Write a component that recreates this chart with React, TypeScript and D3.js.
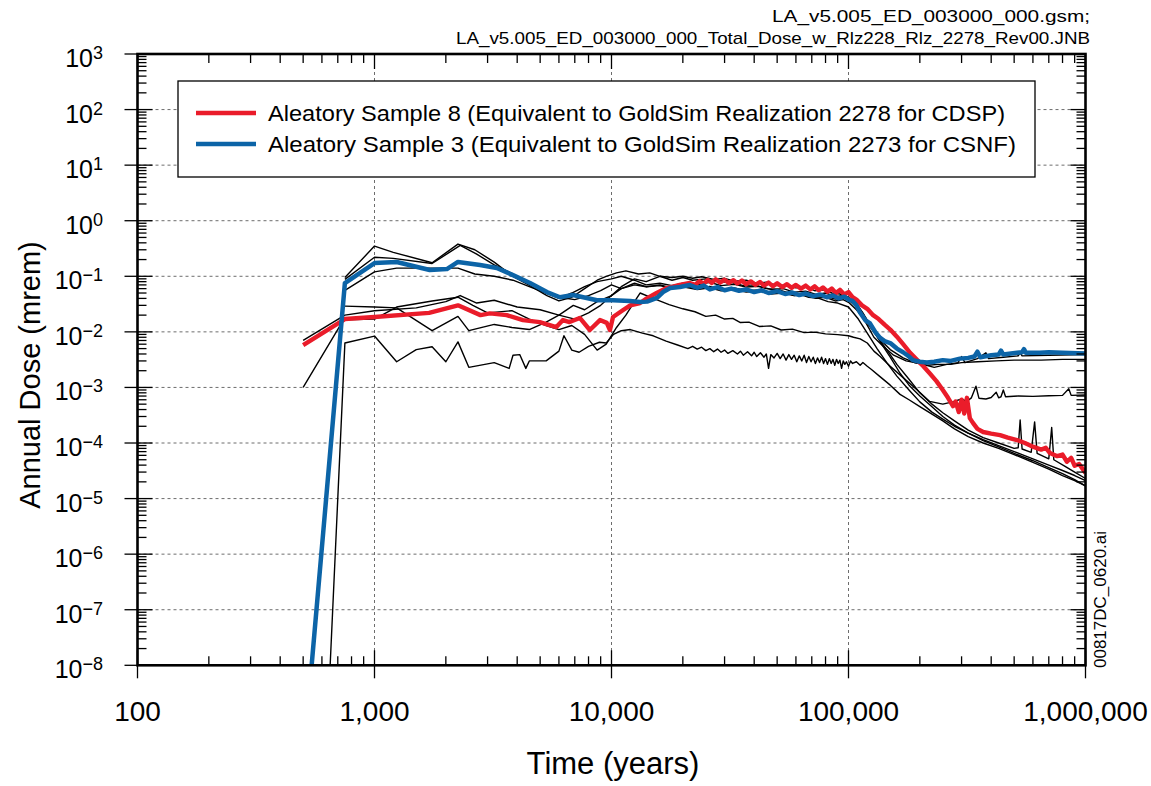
import React from "react";
import * as d3 from "d3";

type Pt = [number, number];

const W = 1151;
const H = 786;

const xDomain: [number, number] = [100, 1e6];
const yDomain: [number, number] = [1e-8, 1e3];
const xMajorTicks = [100, 1000, 10000, 100000, 1000000];
const yMajorExponents = [3, 2, 1, 0, -1, -2, -3, -4, -5, -6, -7, -8];

const headerLines = [
  "LA_v5.005_ED_003000_000.gsm;",
  "LA_v5.005_ED_003000_000_Total_Dose_w_Rlz228_Rlz_2278_Rev00.JNB",
];
const sideNote = "00817DC_0620.ai";
const xTitle = "Time (years)";
const yTitle = "Annual Dose (mrem)";
const legendLabels = [
  "Aleatory Sample 8 (Equivalent to GoldSim Realization 2278 for CDSP)",
  "Aleatory Sample 3 (Equivalent to GoldSim Realization 2273 for CSNF)",
];

// Aleatory Sample 8 (red)
const redSeries: Pt[] = [
  [500, 0.0058], [750, 0.017], [1000, 0.0185], [1700, 0.022], [2250, 0.03], [2800, 0.02],
  [3070, 0.0215], [3610, 0.02], [4230, 0.0163], [4980, 0.015], [5850, 0.0122], [6240, 0.0163],
  [6650, 0.015], [7350, 0.0178], [8100, 0.0108], [8940, 0.0163], [9550, 0.0145], [9850, 0.0108],
  [10150, 0.0185], [11200, 0.0247], [12000, 0.03], [13200, 0.033], [14100, 0.04], [15500, 0.05],
  [17100, 0.0615], [19400, 0.0697], [21400, 0.0757], [22500, 0.07], [23500, 0.082], [24500, 0.074],
  [25500, 0.086], [26500, 0.076], [27500, 0.088], [28700, 0.077], [30000, 0.087], [31300, 0.076],
  [32700, 0.085], [34000, 0.074], [35500, 0.084], [37000, 0.072], [38700, 0.081], [40500, 0.07],
  [42300, 0.079], [44000, 0.068], [46000, 0.077], [48000, 0.066], [50000, 0.075], [52500, 0.064],
  [55000, 0.072], [57500, 0.062], [60000, 0.07], [63000, 0.06], [66000, 0.068], [69000, 0.058],
  [72000, 0.066], [75000, 0.056], [78000, 0.063], [81500, 0.053], [85000, 0.06], [88500, 0.05],
  [92000, 0.057], [96000, 0.047], [100000, 0.052], [104000, 0.042], [108000, 0.038], [114000, 0.03],
  [120000, 0.026], [127000, 0.02], [134000, 0.017], [142000, 0.0135], [150000, 0.011], [160000, 0.0082],
  [170000, 0.006], [182000, 0.0042], [195000, 0.0031], [207000, 0.0024], [220000, 0.0018],
  [235000, 0.0013], [250000, 9e-4], [263000, 6.5e-4], [276000, 4.6e-4], [283000, 5.6e-4],
  [292000, 3.6e-4], [300000, 6e-4], [308000, 3.4e-4], [316000, 6.5e-4], [325000, 2.8e-4],
  [335000, 2.3e-4], [350000, 1.8e-4], [370000, 1.58e-4], [400000, 1.48e-4], [436000, 1.39e-4],
  [470000, 1.25e-4], [514000, 1.13e-4], [555000, 1e-4], [600000, 8.6e-5], [650000, 7.6e-5],
  [680000, 8.2e-5], [708000, 6.6e-5], [760000, 5.8e-5], [800000, 6.2e-5], [835000, 4.6e-5],
  [870000, 5.4e-5], [900000, 3.9e-5], [940000, 4.2e-5], [1000000, 2.9e-5],
];

// Aleatory Sample 3 (blue)
const blueSeries: Pt[] = [
  [543, 1e-8], [750, 0.0757], [1000, 0.173], [1240, 0.181], [1710, 0.13], [2020, 0.135],
  [2250, 0.181], [2790, 0.16], [3280, 0.141], [3840, 0.105], [4530, 0.0757], [5340, 0.052],
  [6060, 0.042], [6880, 0.046], [8680, 0.037], [10150, 0.037], [11970, 0.036], [13200, 0.0344],
  [14120, 0.035], [15560, 0.041], [16500, 0.052], [17690, 0.0615], [19450, 0.0642], [21400, 0.0697],
  [23000, 0.062], [24500, 0.068], [26000, 0.058], [28000, 0.064], [30000, 0.056], [32000, 0.06],
  [34500, 0.055], [37000, 0.058], [40000, 0.052], [43000, 0.056], [46000, 0.05], [50000, 0.054],
  [54000, 0.048], [58000, 0.051], [62000, 0.046], [66000, 0.049], [71000, 0.044], [76000, 0.047],
  [81000, 0.042], [86000, 0.045], [91000, 0.04], [96000, 0.043], [100000, 0.038], [104000, 0.036],
  [108000, 0.03], [112000, 0.022], [118000, 0.016], [123000, 0.0144], [130000, 0.0098],
  [136000, 0.0078], [142000, 0.0068], [150000, 0.0063], [160000, 0.005], [170000, 0.0043],
  [180000, 0.0036], [187000, 0.0031], [200000, 0.0029], [214000, 0.0028], [230000, 0.0029],
  [250000, 0.0031], [270000, 0.003], [295000, 0.0033], [320000, 0.0034], [340000, 0.0036],
  [350000, 0.0044], [360000, 0.0035], [400000, 0.0038], [430000, 0.0039], [440000, 0.0046],
  [450000, 0.0039], [514000, 0.0042], [540000, 0.0043], [550000, 0.0049], [560000, 0.0042],
  [642000, 0.0042], [700000, 0.0043], [800000, 0.0042], [1000000, 0.0041],
];

// other realizations (thin black)
const black1: Pt[] = [
  [750, 0.095], [1000, 0.35], [1200, 0.27], [1750, 0.175], [2250, 0.38], [2650, 0.3], [3200, 0.18],
  [3840, 0.1], [4530, 0.068], [5340, 0.045], [6000, 0.036], [6800, 0.042], [7700, 0.06], [8700, 0.085],
  [9500, 0.1], [10500, 0.115], [11500, 0.125], [13000, 0.11], [14500, 0.115], [16000, 0.1],
  [18000, 0.095], [20000, 0.1], [22000, 0.092], [24000, 0.098], [27000, 0.088], [30000, 0.092],
  [33000, 0.082], [37000, 0.085], [41000, 0.075], [45000, 0.078], [50000, 0.068], [55000, 0.07],
  [60000, 0.062], [66000, 0.064], [72000, 0.055], [78000, 0.057], [85000, 0.05], [92000, 0.048],
  [100000, 0.042], [108000, 0.033], [116000, 0.02], [125000, 0.012], [135000, 0.0075],
  [150000, 0.0048], [170000, 0.0034], [190000, 0.0028], [215000, 0.0025], [240000, 0.0026],
  [270000, 0.0026], [300000, 0.0028], [350000, 0.0029], [420000, 0.003], [500000, 0.0031],
  [650000, 0.0031], [800000, 0.0032], [1000000, 0.0032],
];
const black2: Pt[] = [
  [750, 0.088], [1000, 0.22], [1200, 0.21], [1750, 0.17], [2300, 0.36], [2700, 0.25], [3200, 0.16],
  [3840, 0.11], [4500, 0.075], [5300, 0.05], [6000, 0.04], [6800, 0.05], [7700, 0.065], [8700, 0.08],
  [10000, 0.09], [11000, 0.1], [12500, 0.085], [14000, 0.07], [16000, 0.075], [18000, 0.068],
  [20000, 0.075], [23000, 0.07], [26000, 0.078], [29000, 0.068], [33000, 0.072], [37000, 0.064],
  [42000, 0.066], [47000, 0.058], [53000, 0.06], [59000, 0.052], [66000, 0.054], [73000, 0.047],
  [80000, 0.05], [88000, 0.043], [95000, 0.045], [100000, 0.04], [107000, 0.034], [115000, 0.022],
  [125000, 0.012], [138000, 0.006], [150000, 0.0035], [165000, 0.0018], [180000, 0.0011],
  [200000, 7e-4], [225000, 4.5e-4], [250000, 3e-4], [280000, 2.1e-4], [320000, 1.5e-4],
  [370000, 1.1e-4], [430000, 8.5e-5], [500000, 6.5e-5], [600000, 4.8e-5], [700000, 3.6e-5],
  [800000, 2.8e-5], [900000, 2.2e-5], [1000000, 1.7e-5],
];
const black3: Pt[] = [
  [750, 0.056], [1000, 0.12], [1240, 0.14], [1750, 0.14], [2250, 0.14], [2650, 0.11], [3200, 0.1],
  [3840, 0.085], [4500, 0.065], [5300, 0.05], [6000, 0.042], [7000, 0.038], [8000, 0.045],
  [9000, 0.055], [10000, 0.07], [11000, 0.06], [12500, 0.075], [14000, 0.065], [16000, 0.07],
  [18000, 0.062], [20000, 0.068], [23000, 0.06], [26000, 0.066], [29000, 0.058], [33000, 0.062],
  [37000, 0.055], [42000, 0.057], [47000, 0.05], [53000, 0.052], [59000, 0.045], [66000, 0.047],
  [73000, 0.04], [80000, 0.042], [88000, 0.036], [95000, 0.038], [100000, 0.034], [108000, 0.025],
  [118000, 0.016], [130000, 0.009], [145000, 0.0048], [160000, 0.0026], [180000, 0.0014],
  [200000, 8e-4], [225000, 5e-4], [250000, 3.5e-4], [280000, 2.5e-4], [320000, 1.7e-4],
  [370000, 1.25e-4], [430000, 1e-4], [500000, 8e-5], [520000, 8.2e-5], [530000, 2.6e-4],
  [540000, 7.8e-5], [590000, 6.8e-5], [610000, 2.4e-4], [625000, 6.5e-5], [700000, 5.2e-5],
  [720000, 1.9e-4], [735000, 5e-5], [820000, 3.8e-5], [900000, 3e-5], [1000000, 2.3e-5],
];
const black4: Pt[] = [
  [750, 0.029], [1000, 0.028], [1240, 0.027], [1750, 0.0105], [2250, 0.019], [2500, 0.0105],
  [3200, 0.0136], [3800, 0.012], [4500, 0.011], [5300, 0.015], [6000, 0.02], [6900, 0.03],
  [7700, 0.025], [8700, 0.035], [10000, 0.045], [11000, 0.06], [12500, 0.07], [14000, 0.065],
  [16000, 0.068], [18000, 0.06], [20000, 0.065], [23000, 0.058], [26000, 0.062], [29000, 0.055],
  [33000, 0.058], [37000, 0.052], [42000, 0.054], [47000, 0.048], [53000, 0.05], [59000, 0.045],
  [66000, 0.047], [73000, 0.042], [80000, 0.044], [88000, 0.039], [95000, 0.041], [100000, 0.038],
  [108000, 0.028], [118000, 0.015], [128000, 0.008], [140000, 0.0055], [155000, 0.0038],
  [175000, 0.003], [200000, 0.0027], [230000, 0.0023], [260000, 0.0026], [290000, 0.0028],
  [300000, 0.0036], [310000, 0.0028], [350000, 0.0033], [380000, 0.0042], [390000, 0.0033],
  [450000, 0.0035], [520000, 0.0037], [530000, 0.0042], [540000, 0.0037], [700000, 0.0038],
  [1000000, 0.0039],
];
const black5: Pt[] = [
  [500, 0.007], [750, 0.02], [1000, 0.024], [1500, 0.027], [2000, 0.035], [2300, 0.045],
  [2700, 0.033], [3200, 0.037], [4000, 0.028], [5000, 0.025], [6000, 0.02], [7000, 0.017],
  [8000, 0.022], [9000, 0.03], [10000, 0.045], [11000, 0.065], [12500, 0.09], [14000, 0.08],
  [16000, 0.1], [18000, 0.085], [20000, 0.095], [22000, 0.085], [25000, 0.09], [28000, 0.08],
  [32000, 0.078], [36000, 0.068], [40000, 0.07], [45000, 0.06], [50000, 0.058], [56000, 0.05],
  [62000, 0.048], [68000, 0.042], [75000, 0.04], [82000, 0.035], [90000, 0.033], [100000, 0.028],
  [110000, 0.017], [120000, 0.0095], [132000, 0.005], [145000, 0.0028], [160000, 0.0016],
  [180000, 9e-4], [200000, 5.5e-4], [225000, 3.6e-4], [250000, 2.7e-4], [280000, 2e-4],
  [320000, 1.5e-4], [370000, 1.15e-4], [430000, 9e-5], [500000, 7e-5], [600000, 5.2e-5],
  [700000, 4e-5], [800000, 3.2e-5], [900000, 2.6e-5], [1000000, 2.1e-5],
];
const black6: Pt[] = [
  [500, 0.001], [740, 0.0165], [1000, 0.017], [1240, 0.028], [1750, 0.036], [2250, 0.042],
  [2600, 0.03], [3000, 0.022], [3800, 0.024], [4500, 0.017], [5300, 0.013], [6000, 0.011],
  [6800, 0.013], [7700, 0.009], [8700, 0.0047], [9500, 0.006], [10500, 0.012], [11500, 0.02],
  [12500, 0.035], [13200, 0.05], [15000, 0.04], [17500, 0.031], [20000, 0.026], [22500, 0.023],
  [25000, 0.019], [27500, 0.02], [30000, 0.017], [32500, 0.0175], [35000, 0.0147], [38000, 0.015],
  [42000, 0.0125], [47000, 0.0128], [52000, 0.0108], [58000, 0.0112], [65000, 0.0097],
  [72000, 0.0099], [80000, 0.0092], [90000, 0.0089], [100000, 0.0085], [105000, 0.008],
  [112000, 0.0075], [120000, 0.0063], [128000, 0.0045], [136000, 0.0036], [150000, 0.0024],
  [170000, 0.0015], [195000, 9e-4], [220000, 5.6e-4], [250000, 5e-4], [275000, 5.5e-4],
  [300000, 6.2e-4], [315000, 5.6e-4], [330000, 6.5e-4], [345000, 1.05e-3], [355000, 6.4e-4],
  [380000, 6.2e-4], [400000, 6.6e-4], [420000, 8.2e-4], [430000, 6.5e-4], [440000, 6.8e-4],
  [450000, 9e-4], [460000, 6.8e-4], [520000, 7e-4], [600000, 6.9e-4], [700000, 7.1e-4],
  [800000, 7.2e-4], [850000, 9.5e-4], [870000, 7.2e-4], [1000000, 7.3e-4],
];
const black7: Pt[] = [
  [650, 1e-8], [750, 0.0063], [1000, 0.0084], [1240, 0.0029], [1500, 0.0048], [1750, 0.0054],
  [2000, 0.0029], [2250, 0.0066], [2500, 0.0023], [3200, 0.0028], [3700, 0.0022], [3840, 0.0038],
  [4100, 0.0039], [4350, 0.0022], [4500, 0.003], [5300, 0.003], [6000, 0.0045], [6300, 0.0085],
  [6800, 0.0047], [7300, 0.0043], [8000, 0.0055], [8900, 0.0065], [9500, 0.0063], [10200, 0.009],
  [11000, 0.0105], [12000, 0.011], [13500, 0.0095], [15000, 0.0085], [17000, 0.0068],
  [19000, 0.0058], [21000, 0.005], [22000, 0.0055], [23000, 0.0049], [24000, 0.0053],
  [25000, 0.0046], [26000, 0.005], [27000, 0.0044], [28000, 0.0049], [29000, 0.0043],
  [30000, 0.0047], [31000, 0.0041], [32500, 0.0046], [34000, 0.004], [35000, 0.0045],
  [36000, 0.0038], [37500, 0.0044], [39000, 0.0037], [40000, 0.0043], [41000, 0.0036],
  [42500, 0.0042], [44000, 0.0035], [45000, 0.004], [46000, 0.0022], [47000, 0.0039],
  [48500, 0.0034], [50000, 0.0041], [51500, 0.0033], [53000, 0.004], [54500, 0.0031],
  [56000, 0.0039], [57500, 0.0032], [59000, 0.0038], [60500, 0.0029], [62000, 0.0037],
  [63500, 0.003], [65000, 0.0038], [66500, 0.0028], [68000, 0.0036], [69500, 0.0029],
  [71000, 0.0035], [72500, 0.0027], [74000, 0.0034], [75500, 0.0028], [77000, 0.0035],
  [78500, 0.0027], [80000, 0.0033], [81500, 0.0026], [83000, 0.0033], [84500, 0.0027],
  [86000, 0.0032], [87500, 0.0025], [89000, 0.0032], [90500, 0.0027], [92000, 0.0031],
  [93500, 0.0022], [95000, 0.003], [96500, 0.0026], [98000, 0.0029], [100000, 0.0024],
  [102000, 0.003], [104000, 0.0027], [108000, 0.0029], [112000, 0.0025], [115000, 0.0028],
  [120000, 0.0024], [125000, 0.0021], [135000, 0.0016], [150000, 0.0011], [165000, 7.5e-4],
  [180000, 6e-4], [200000, 4.5e-4], [225000, 3.3e-4], [250000, 2.5e-4], [280000, 1.8e-4],
  [320000, 1.3e-4], [370000, 1e-4], [430000, 8e-5], [500000, 6.2e-5], [600000, 4.5e-5],
  [700000, 3.4e-5], [800000, 2.6e-5], [900000, 2.1e-5], [1000000, 1.7e-5],
];
const blackSeries: Pt[][] = [black1, black2, black3, black4, black5, black6, black7];

const RED = "#ea1c2a";
const BLUE = "#0c64a7";
const FONT = "'Liberation Sans', Arial, Helvetica, sans-serif";

export default function App() {
  const left = 137.5;
  const right = 1085.5;
  const top = 54;
  const bottom = 665.3;

  const x = d3.scaleLog().domain(xDomain).range([left, right]);
  const y = d3.scaleLog().domain(yDomain).range([bottom, top]);

  const line = d3
    .line<Pt>()
    .x((d) => x(d[0]))
    .y((d) => y(d[1]));

  const xMinor: number[] = [];
  for (let i = 0; i < xMajorTicks.length - 1; i++) {
    for (let k = 2; k <= 9; k++) xMinor.push(xMajorTicks[i] * k);
  }
  const yMajor = yMajorExponents.map((e) => Math.pow(10, e));
  const yMinor: number[] = [];
  for (let e = -8; e < 3; e++) {
    for (let k = 2; k <= 9; k++) yMinor.push(k * Math.pow(10, e));
  }
  const fmt = d3.format(",");

  const minorLen = 9;
  const majorIn = 15;
  const majorOut = 13;

  return (
    <svg
      width={W}
      height={H}
      style={{ position: "absolute", left: 0, top: 0, background: "#fff" }}
      fontFamily={FONT}
    >
      <defs>
        <clipPath id="plotClip">
          <rect x={left} y={top} width={right - left} height={bottom - top} />
        </clipPath>
      </defs>
      <rect x={0} y={0} width={W} height={H} fill="#fff" />

      {/* grid */}
      <g stroke="#6d6d6d" strokeWidth={1} strokeDasharray="3,3">
        {xMajorTicks.slice(1, -1).map((t) => (
          <line key={"gx" + t} x1={x(t)} x2={x(t)} y1={top} y2={bottom} />
        ))}
        {yMajor.slice(1, -1).map((v) => (
          <line key={"gy" + v} x1={left} x2={right} y1={y(v)} y2={y(v)} />
        ))}
      </g>

      {/* data */}
      <g clipPath="url(#plotClip)" fill="none" strokeLinejoin="round">
        {blackSeries.map((s, i) => (
          <path key={"b" + i} d={line(s) || ""} stroke="#000" strokeWidth={1.4} />
        ))}
        <path d={line(redSeries) || ""} stroke={RED} strokeWidth={4.4} />
        <path d={line(blueSeries) || ""} stroke={BLUE} strokeWidth={4.5} />
      </g>

      {/* legend */}
      <g>
        <rect x={178} y={81} width={857} height={96} fill="#fff" stroke="#000" strokeWidth={1.3} />
        <line x1={196} x2={256} y1={113} y2={113} stroke={RED} strokeWidth={4.5} />
        <line x1={196} x2={256} y1={144} y2={144} stroke={BLUE} strokeWidth={4.5} />
        <text x={268} y={121} fontSize={22} textLength={737} lengthAdjust="spacingAndGlyphs">
          {legendLabels[0]}
        </text>
        <text x={268} y={152} fontSize={22} textLength={748} lengthAdjust="spacingAndGlyphs">
          {legendLabels[1]}
        </text>
      </g>

      {/* frame */}
      <rect
        x={left}
        y={top}
        width={right - left}
        height={bottom - top}
        fill="none"
        stroke="#000"
        strokeWidth={2.6}
      />

      {/* ticks */}
      <g stroke="#000" strokeWidth={1.3}>
        {xMinor.map((t) => (
          <g key={"xm" + t}>
            <line x1={x(t)} x2={x(t)} y1={bottom} y2={bottom - minorLen} />
            <line x1={x(t)} x2={x(t)} y1={top} y2={top + minorLen} />
          </g>
        ))}
        {xMajorTicks.map((t) => (
          <g key={"xM" + t}>
            <line x1={x(t)} x2={x(t)} y1={bottom + majorOut} y2={bottom - majorIn} />
            <line x1={x(t)} x2={x(t)} y1={top} y2={top + majorIn} />
          </g>
        ))}
        {yMinor.map((v) => (
          <g key={"ym" + v}>
            <line x1={left} x2={left + minorLen} y1={y(v)} y2={y(v)} />
            <line x1={right} x2={right - minorLen} y1={y(v)} y2={y(v)} />
          </g>
        ))}
        {yMajor.map((v) => (
          <g key={"yM" + v}>
            <line x1={left - majorOut} x2={left + majorIn} y1={y(v)} y2={y(v)} />
            <line x1={right} x2={right - majorIn} y1={y(v)} y2={y(v)} />
          </g>
        ))}
      </g>

      {/* x tick labels */}
      <g fontSize={28} textAnchor="middle" fill="#000">
        {xMajorTicks.map((t) => (
          <text key={"xl" + t} x={x(t)} y={721}>
            {fmt(t)}
          </text>
        ))}
      </g>

      {/* y tick labels */}
      <g fill="#000" textAnchor="end">
        {yMajorExponents.map((e) => (
          <text key={"yl" + e} x={103} y={y(Math.pow(10, e)) + 13} fontSize={25}>
            10
            <tspan dy={-8} fontSize={18}>
              {e < 0 ? "\u2212" + Math.abs(e) : String(e)}
            </tspan>
          </text>
        ))}
      </g>

      {/* axis titles */}
      <text x={613} y={774} fontSize={31} textAnchor="middle" fill="#000">
        {xTitle}
      </text>
      <text
        transform={`translate(40,375) rotate(-90)`}
        fontSize={29}
        textAnchor="middle"
        fill="#000"
      >
        {yTitle}
      </text>

      {/* header */}
      <g fontSize={17} textAnchor="end" fill="#000">
        <text x={1090} y={22} textLength={318} lengthAdjust="spacingAndGlyphs">
          {headerLines[0]}
        </text>
        <text x={1090} y={44} textLength={634} lengthAdjust="spacingAndGlyphs">
          {headerLines[1]}
        </text>
      </g>

      {/* side note */}
      <text transform={`translate(1106,668) rotate(-90)`} fontSize={17} fill="#000">
        {sideNote}
      </text>
    </svg>
  );
}
